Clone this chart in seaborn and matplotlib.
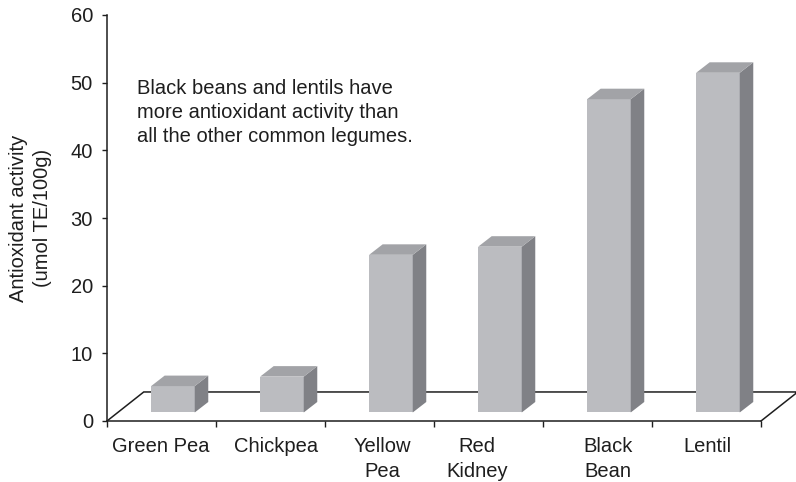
import matplotlib
matplotlib.use("Agg")
import matplotlib.pyplot as plt
import seaborn as sns
import pandas as pd
from matplotlib.patches import Polygon

# Antioxidant activity of common legumes
legumes = ["Green Pea", "Chickpea", "Yellow\nPea", "Red\nKidney", "Black\nBean", "Lentil"]
activity = [3.9, 5.3, 23.3, 24.5, 46.3, 50.2]
y_ticks = [0, 10, 20, 30, 40, 50, 60]
note = ("Black beans and lentils have\n"
        "more antioxidant activity than\n"
        "all the other common legumes.")
y_label = "Antioxidant activity\n(umol TE/100g)"

sns.set_theme(style="ticks")
plt.rcParams["font.family"] = ["Liberation Sans", "DejaVu Sans"]

FRONT = "#bbbcc0"
SIDE = "#808186"
TOP = "#a2a3a7"
INK = "#1e1e1e"

W, H = 796, 482
fig = plt.figure(figsize=(W / 100, H / 100), dpi=100)
ax = fig.add_axes([107 / W, 1 - 421 / H, 654 / W, 406 / H])

df = pd.DataFrame({"legume": legumes, "activity": activity})
sns.barplot(data=df, x="legume", y="activity", color=FRONT, saturation=1,
            width=0.4, linewidth=0, ax=ax, zorder=3)

# pseudo-3D geometry (category units / value units)
x_left, x_right = -0.605, 5.395
floor_dx, floor_dy = 0.337, 4.29      # depth of the floor
bar_base = 1.26                        # bars stand in the middle of the floor
side_dx, side_dy = 0.124, 1.55         # depth of each bar

for p in list(ax.patches):
    p.set_y(bar_base)
    x0, w, h = p.get_x(), p.get_width(), p.get_height()
    y0, y1 = bar_base, bar_base + h
    side = Polygon([(x0 + w, y0), (x0 + w + side_dx, y0 + side_dy),
                    (x0 + w + side_dx, y1 + side_dy), (x0 + w, y1)],
                   closed=True, facecolor=SIDE, edgecolor="none", zorder=3)
    top = Polygon([(x0, y1), (x0 + w, y1), (x0 + w + side_dx, y1 + side_dy),
                   (x0 + side_dx, y1 + side_dy)],
                  closed=True, facecolor=TOP, edgecolor="none", zorder=3)
    ax.add_patch(side)
    ax.add_patch(top)

# floor outline
ax.plot([x_left, x_left + floor_dx, x_right + floor_dx, x_right],
        [0, floor_dy, floor_dy, 0], color=INK, lw=1.1, zorder=1,
        clip_on=False, solid_joinstyle="miter")

ax.set_xlim(x_left, x_right)
ax.set_ylim(0, 60)
ax.set_yticks(y_ticks)
ax.set_yticklabels([str(t) for t in y_ticks])

# category boundaries as ticks, names centred underneath
ax.set_xticks([x_left + k for k in range(len(legumes) + 1)])
ax.set_xticklabels([])
label_px = [161, 276, 382, 477, 608, 707]
ax.set_xticks([(px - 107) / 109 + x_left for px in label_px], minor=True)
ax.set_xticklabels(legumes, minor=True)
for t in ax.get_xticklabels(minor=True):
    t.set_linespacing(1.36)
ax.tick_params(axis="x", which="major", length=4.3, width=1.0, color=INK, direction="out")
ax.tick_params(axis="x", which="minor", length=0, pad=11.8, labelsize=14.5, labelcolor=INK)
ax.tick_params(axis="y", length=3.6, width=1.0, color=INK, pad=6.5,
               labelsize=14.5, labelcolor=INK)
ax.set_xlabel("")
ax.set_ylabel("")

sns.despine(ax=ax)
for s in ("left", "bottom"):
    ax.spines[s].set_color(INK)
    ax.spines[s].set_linewidth(1.1)

fig.text(30.5 / W, 1 - 218 / H, y_label, rotation=90, ha="center", va="center",
         fontsize=14.5, color=INK, multialignment="center", linespacing=1.36)
fig.text(137 / W, 1 - 79 / H, note, ha="left", va="top", fontsize=14.5,
         color=INK, linespacing=1.34)

fig.savefig("out.png", dpi=100)
